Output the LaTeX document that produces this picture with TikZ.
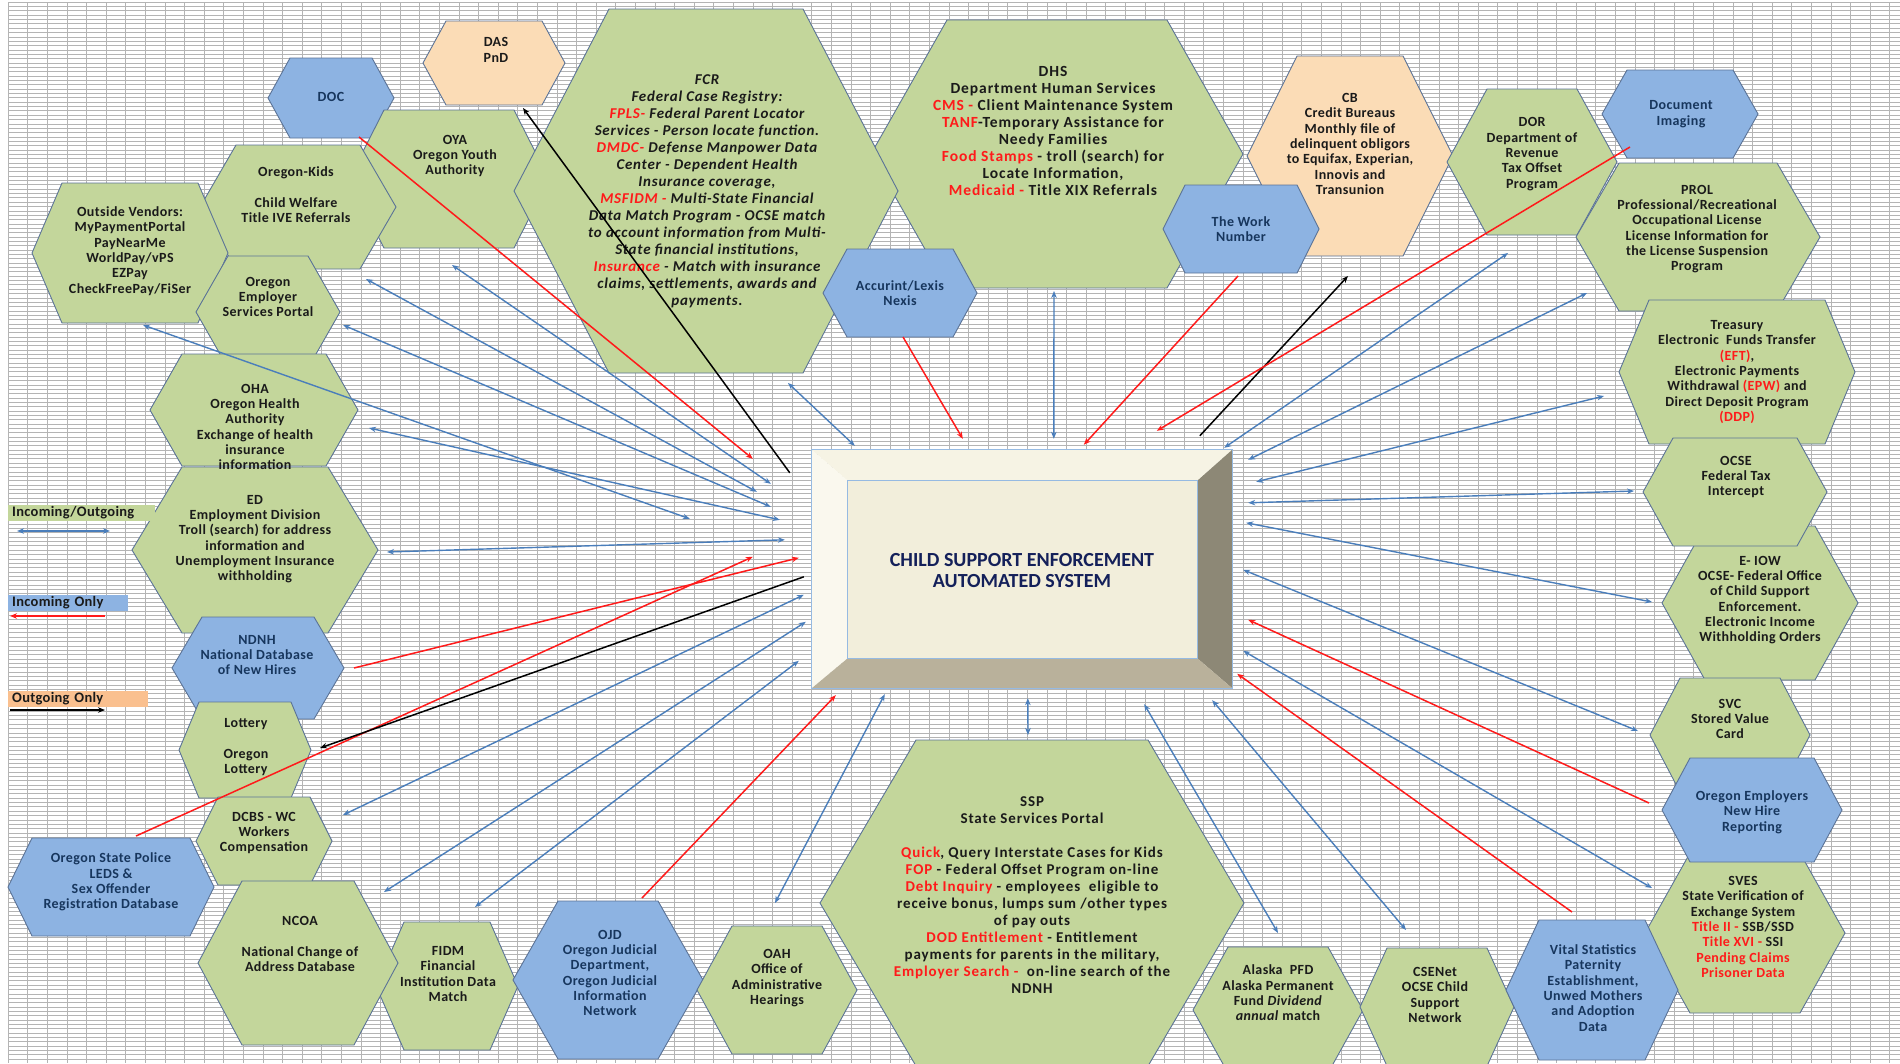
\documentclass[tikz,border=0pt]{standalone}
\usepackage{fontspec}
\setmainfont{Carlito}
\usetikzlibrary{arrows.meta}

\definecolor{hexgreen}{HTML}{C3D69B}
\definecolor{hexblue}{HTML}{8DB3E2}
\definecolor{hexpeach}{HTML}{FBDCB6}
\definecolor{legorange}{HTML}{FAC08F}
\definecolor{hexline}{HTML}{5B7397}
\definecolor{arrowblue}{HTML}{4A7EBB}
\definecolor{hred}{HTML}{FF1A1A}
\definecolor{txtdark}{HTML}{1A1A1A}
\definecolor{txtnavy}{HTML}{17365D}
\definecolor{gridgray}{HTML}{B4B4B4}
\definecolor{bevtop}{RGB}{246,243,228}
\definecolor{bevleft}{RGB}{250,248,238}
\definecolor{bevright}{RGB}{141,136,118}
\definecolor{bevbottom}{RGB}{185,177,155}
\definecolor{boxface}{RGB}{242,238,219}
\definecolor{boxedge}{RGB}{150,186,226}
\definecolor{boxtitle}{RGB}{20,32,90}

\begin{document}
\begin{tikzpicture}[x=1pt, y=-1pt, >={Stealth[length=7pt,width=5.5pt]}]
        \tikzstyle{ghex}=[fill=hexgreen, draw=hexline, line width=0.9]
        \tikzstyle{bhex}=[fill=hexblue, draw=hexline, line width=0.9]
        \tikzstyle{phex}=[fill=hexpeach, draw=hexline, line width=0.9]
        \tikzstyle{htext}=[align=center, inner sep=0pt, font=\fontsize{14}{15.3}\selectfont\bfseries\addfontfeatures{LetterSpace=3}, text=txtdark]
        \tikzstyle{hbtext}=[htext, text=txtnavy]
        \tikzstyle{bigtext}=[htext, font=\fontsize{15.5}{17}\selectfont\bfseries\addfontfeatures{LetterSpace=6}]
        \tikzstyle{io}=[<->, draw=arrowblue, line width=1.4]
        \tikzstyle{inc}=[->, draw=hred, line width=1.5]
        \tikzstyle{outg}=[->, draw=black, line width=1.5]
        \tikzstyle{legbox}=[anchor=west, minimum height=16, inner xsep=4pt, inner ysep=0pt, font=\fontsize{14.5}{15}\selectfont\bfseries\addfontfeatures{LetterSpace=2}, text=txtdark]
        \tikzset{pics/hexa/.style args={#1/#2/#3}{code={
          \path[pic actions] (-#1,0) -- (-#1+#3,-#2) -- (#1-#3,-#2) -- (#1,0) -- (#1-#3,#2) -- (-#1+#3,#2) -- cycle;}}}

        \useasboundingbox (0,0) rectangle (1900,1063);
        \fill[white] (0,0) rectangle (1900,1063);
        % sheet grid
        \foreach \gy in {2,6.35,...,1063} \draw[gridgray, line width=0.6] (8,\gy) -- (1900,\gy);
        \foreach \gx in {8,27.6,...,1900} \draw[gridgray, line width=0.6] (\gx,2) -- (\gx,1063);

        % hexagons, left side
        \pic[phex] at (494,63) {hexa=71/42/23};
        \node[htext] (das) at (496,50) {DAS\\PnD};
        \pic[bhex] at (331,98) {hexa=63/40/22};
        \node[hbtext] (doc) at (331,97) {DOC};
        \pic[ghex] at (449,179) {hexa=100/69/35};
        \node[htext] (oya) at (455,156) {OYA\\Oregon Youth\\Authority};
        \pic[ghex] at (298,207) {hexa=98/62/36};
        \node[htext] (kids) at (296,195) {Oregon-Kids\\[15.3pt]Child Welfare\\Title IVE Referrals};
        \pic[ghex] at (130,253) {hexa=98/70/30};
        \node[htext] (vend) at (130,251) {Outside Vendors:\\MyPaymentPortal\\PayNearMe\\WorldPay/vPS\\EZPay\\CheckFreePay/FiSer};
        \pic[ghex] at (268,312) {hexa=72/56/32};
        \node[htext] (oesp) at (268,297) {Oregon\\Employer\\Services Portal};
        \pic[ghex] at (255,550) {hexa=123/83/50};
        \node[htext] (ed) at (255,539) {ED\\Employment Division\\Troll (search) for address\\information and\\Unemployment Insurance\\withholding};
        \pic[ghex] at (254,410) {hexa=104/56/32};
        \node[htext] (oha) at (255,427) {OHA\\Oregon Health\\Authority\\Exchange of health\\insurance\\information};
        \pic[bhex] at (258,668) {hexa=86/51/30};
        \node[hbtext] (ndnh) at (257,655) {NDNH\\National Database\\of New Hires};
        \pic[ghex] at (245,750) {hexa=66/48/20};
        \node[htext] (lott) at (246,747) {Lottery\\[15.3pt]Oregon\\Lottery};
        \pic[bhex] at (111,887) {hexa=103/49/24};
        \node[hbtext] (osp) at (111,882) {Oregon State Police\\LEDS \&\\Sex Offender\\Registration Database};
        \pic[ghex] at (264,841) {hexa=68/44/22};
        \node[htext] (dcbs) at (264,833) {DCBS - WC\\Workers\\Compensation};
        \pic[ghex] at (447,986) {hexa=71/64/28};
        \node[htext] (fidm) at (448,974) {FIDM\\Financial\\Institution Data\\Match};
        \pic[ghex] at (298,963) {hexa=100/82/44};
        \node[htext] (ncoa) at (300,944) {NCOA\\[15.3pt]National Change of\\Address Database};
        \pic[bhex] at (608,980) {hexa=95/79/45};
        \node[hbtext] (ojd) at (610,973) {OJD\\Oregon Judicial\\Department,\\Oregon Judicial\\Information\\Network};
        \pic[ghex] at (777,990) {hexa=80/64/35};
        \node[htext] (oah) at (777,978) {OAH\\Office of\\Administrative\\Hearings};

        % hexagons, middle
        \pic[ghex] at (1032,903) {hexa=212/163/96};
        \node[htext, font=\fontsize{15}{17}\selectfont\bfseries\addfontfeatures{LetterSpace=6}] (ssp) at (1032,895) {SSP\\State Services Portal\\[17pt]{\color{hred}Quick}, Query Interstate Cases for Kids\\{\color{hred}FOP} - Federal Offset Program on-line\\{\color{hred}Debt Inquiry} - employees\ \ eligible to\\receive bonus, lumps sum /other types\\of pay outs\\{\color{hred}DOD Entitlement} - Entitlement\\payments for parents in the military,\\{\color{hred}Employer Search -}\ \ on-line search of the\\NDNH};
        \pic[ghex] at (1278,1010) {hexa=85/63/35};
        \node[htext] (alaska) at (1278,993) {Alaska\ \ PFD\\Alaska Permanent\\Fund \textit{Dividend}\\\textit{annual} match};
        \pic[ghex] at (1057,154) {hexa=186/134/76};
        \node[bigtext] (dhs) at (1053,131) {DHS\\Department Human Services\\{\color{hred}CMS -} Client Maintenance System\\{\color{hred}TANF}-Temporary Assistance for\\Needy Families\\{\color{hred}Food Stamps} - troll (search) for\\Locate Information,\\{\color{hred}Medicaid -} Title XIX Referrals};
        \pic[phex] at (1350,156) {hexa=103/100/50};
        \node[htext] (cb) at (1350,144) {CB\\Credit Bureaus\\Monthly file of\\delinquent obligors\\to Equifax, Experian,\\Innovis and\\Transunion};
        \pic[ghex] at (706,191) {hexa=192/182/95};
        \node[htext, font=\fontsize{15}{17}\selectfont\bfseries\itshape\addfontfeatures{LetterSpace=5}] (fcr) at (707,191) {FCR\\Federal Case Registry:\\{\color{hred}FPLS-} Federal Parent Locator\\Services - Person locate function.\\{\color{hred}DMDC-} Defense Manpower Data\\Center - Dependent Health\\Insurance coverage,\\{\color{hred}MSFIDM -} Multi-State Financial\\Data Match Program - OCSE match\\to account information from Multi-\\State financial institutions,\\{\color{hred}Insurance} - Match with insurance\\claims, settlements, awards and\\payments.};
        \pic[bhex] at (900,293) {hexa=77/44/24};
        \node[hbtext] (acc) at (900,293) {Accurint/Lexis\\Nexis};
        \pic[bhex] at (1241,229) {hexa=78/44/22};
        \node[hbtext] (work) at (1241,229) {The Work\\Number};

        % hexagons, right side
        \pic[ghex] at (1532,162) {hexa=85/73/40};
        \node[htext] (dor) at (1532,154) {DOR\\Department of\\Revenue\\Tax Offset\\Program};
        \pic[bhex] at (1680,114) {hexa=78/44/25};
        \node[hbtext] (docimg) at (1681,114) {Document\\Imaging};
        \pic[ghex] at (1698,237) {hexa=122/74/43};
        \node[htext] (prol) at (1697,229) {PROL\\Professional/Recreational\\Occupational License\\License Information for\\the License Suspension\\Program};
        \pic[ghex] at (1737,372) {hexa=118/72/30};
        \node[htext] (treas) at (1737,372) {Treasury\\Electronic\ \ Funds Transfer\\{\color{hred}(EFT)},\\Electronic Payments\\Withdrawal {\color{hred}(EPW)} and\\Direct Deposit Program\\{\color{hred}(DDP)}};
        \pic[ghex] at (1760,603) {hexa=98/77/43};
        \node[htext] (eiow) at (1760,600) {E- IOW\\OCSE- Federal Office\\of Child Support\\Enforcement.\\Electronic Income\\Withholding Orders};
        \pic[ghex] at (1735,492) {hexa=92/54/30};
        \node[htext] (ocse) at (1736,477) {OCSE\\Federal Tax\\Intercept};
        \pic[ghex] at (1730,735) {hexa=80/57/30};
        \node[htext] (svc) at (1730,719) {SVC\\Stored Value\\Card};
        \pic[ghex] at (1745,933) {hexa=100/80/45};
        \node[htext] (sves) at (1743,927) {SVES\\State Verification of\\Exchange System\\{\color{hred}Title II -} SSB/SSD\\{\color{hred}Title XVI -} SSI\\{\color{hred}Pending Claims}\\{\color{hred}Prisoner Data}};
        \pic[bhex] at (1752,810) {hexa=90/52/28};
        \node[hbtext] (oenh) at (1752,812) {Oregon Employers\\New Hire\\Reporting};
        \pic[ghex] at (1437,1007) {hexa=77/59/27};
        \node[htext] (csenet) at (1435,995) {CSENet\\OCSE Child\\Support\\Network};
        \pic[bhex] at (1592,990) {hexa=86/70/33};
        \node[hbtext] (vital) at (1593,988) {Vital Statistics\\Paternity\\Establishment,\\Unwed Mothers\\and Adoption\\Data};

        % central system box
        \node[minimum width=420, minimum height=238, inner sep=0pt] (cse) at (1022,569) {};
        \fill[bevtop] (cse.north west) -- (cse.north east) -- ([shift={(-35,31)}]cse.north east) -- ([shift={(36,31)}]cse.north west) -- cycle;
        \fill[bevleft] (cse.north west) -- ([shift={(36,31)}]cse.north west) -- ([shift={(36,-30)}]cse.south west) -- (cse.south west) -- cycle;
        \fill[bevright] (cse.north east) -- (cse.south east) -- ([shift={(-35,-30)}]cse.south east) -- ([shift={(-35,31)}]cse.north east) -- cycle;
        \fill[bevbottom] (cse.south west) -- (cse.south east) -- ([shift={(-35,-30)}]cse.south east) -- ([shift={(36,-30)}]cse.south west) -- cycle;
        \filldraw[fill=boxface, draw=boxedge, line width=0.8] ([shift={(36,31)}]cse.north west) rectangle ([shift={(-35,-30)}]cse.south east);
        \draw[boxedge, line width=1] (cse.north west) rectangle (cse.south east);
        \node[align=center, font=\fontsize{20}{21}\selectfont\bfseries, text=boxtitle] (csetitle) at (1022,571) {CHILD SUPPORT ENFORCEMENT\\AUTOMATED SYSTEM};

        % arrow ends at the agencies
        \coordinate (das-o) at (523,108);
        \coordinate (doc-o) at (359,137);
        \coordinate (oya-o) at (452,265);
        \coordinate (kids-o) at (366,279);
        \coordinate (oesp-o) at (343,325);
        \coordinate (vend-o) at (143,325);
        \coordinate (oha-o) at (369,428);
        \coordinate (ed-o) at (387,552);
        \coordinate (ndnh-o) at (354,668);
        \coordinate (lott-o) at (320,748);
        \coordinate (osp-o) at (136,836);
        \coordinate (dcbs-o) at (343,815);
        \coordinate (ncoa-o) at (384,892);
        \coordinate (fidm-o) at (475,907);
        \coordinate (ojd-o) at (642,898);
        \coordinate (oah-o) at (775,903);
        \coordinate (ssp-o) at (1028,735);
        \coordinate (alaska-o) at (1278,933);
        \coordinate (csenet-o) at (1406,930);
        \coordinate (vital-o) at (1572,912);
        \coordinate (sves-o) at (1652,888);
        \coordinate (oenh-o) at (1649,803);
        \coordinate (svc-o) at (1638,731);
        \coordinate (eiow-o) at (1652,602);
        \coordinate (ocse-o) at (1634,491);
        \coordinate (treas-o) at (1604,396);
        \coordinate (prol-o) at (1587,293);
        \coordinate (dor-o) at (1508,253);
        \coordinate (docimg-o) at (1630,147);
        \coordinate (cb-o) at (1348,276);
        \coordinate (work-o) at (1238,276);
        \coordinate (dhs-o) at (1054,291);
        \coordinate (acc-o) at (903,337);
        \coordinate (fcr-o) at (788,383);

        % connectors, left
        \draw[inc] (doc-o) -- ([shift={(-59,9)}]cse.north west);
        \draw[outg] ([shift={(-22,23)}]cse.north west) -- (das-o);
        \draw[io] (oya-o) -- ([shift={(-41,34)}]cse.north west);
        \draw[io] (kids-o) -- ([shift={(-55,42)}]cse.north west);
        \draw[io] (oesp-o) -- ([shift={(-41,57)}]cse.north west);
        \draw[io] (oha-o) -- ([shift={(-32,70)}]cse.north west);
        \draw[io] (vend-o) -- ([shift={(-122,69)}]cse.north west);
        \draw[io] (ed-o) -- ([shift={(-27,90)}]cse.north west);
        \draw[inc] (osp-o) -- ([shift={(-59,107)}]cse.north west);
        \draw[inc] (ndnh-o) -- ([shift={(-13,108)}]cse.north west);
        \draw[outg] ([shift={(-8,127)}]cse.north west) -- (lott-o);
        \draw[io] (dcbs-o) -- ([shift={(-8,145)}]cse.north west);
        \draw[io] (ncoa-o) -- ([shift={(-6,172)}]cse.north west);
        \draw[io] (fidm-o) -- ([shift={(-13,211)}]cse.north west);
        % connectors, top
        \draw[io] (fcr-o) -- ([shift={(43,-4)}]cse.north west);
        \draw[inc] (acc-o) -- ([shift={(151,-11)}]cse.north west);
        \draw[io] (dhs-o) -- ([shift={(242,-11)}]cse.north west);
        \draw[inc] (work-o) -- ([shift={(272,-5)}]cse.north west);
        \draw[outg] ([shift={(388,-14)}]cse.north west) -- (cb-o);
        \draw[inc] (docimg-o) -- ([shift={(345,-19)}]cse.north west);
        % connectors, right
        \draw[io] (dor-o) -- ([shift={(-8,-2)}]cse.north east);
        \draw[io] (prol-o) -- ([shift={(16,10)}]cse.north east);
        \draw[io] (treas-o) -- ([shift={(24,32)}]cse.north east);
        \draw[io] (ocse-o) -- ([shift={(16,53)}]cse.north east);
        \draw[io] (eiow-o) -- ([shift={(14,73)}]cse.north east);
        \draw[io] (svc-o) -- ([shift={(11,120)}]cse.north east);
        \draw[inc] (oenh-o) -- ([shift={(16,170)}]cse.north east);
        \draw[io] (sves-o) -- ([shift={(11,201)}]cse.north east);
        \draw[inc] (vital-o) -- ([shift={(5,224)}]cse.north east);
        % connectors, bottom
        \draw[io] (csenet-o) -- ([shift={(-20,12)}]cse.south east);
        \draw[io] (alaska-o) -- ([shift={(-88,16)}]cse.south east);
        \draw[io] (ssp-o) -- ([shift={(216,10)}]cse.south west);
        \draw[io] (oah-o) -- ([shift={(73,6)}]cse.south west);
        \draw[inc] (ojd-o) -- ([shift={(24,7)}]cse.south west);

        % legend
        \node[legbox, fill=hexgreen, text width=139] (leg-io) at (8,513) {Incoming/Outgoing};
        \coordinate (leg-io-a) at (17,531);
        \coordinate (leg-io-b) at (110,531);
        \draw[io] (leg-io-a) -- (leg-io-b);
        \node[legbox, fill=hexblue, text width=112] (leg-in) at (8,603) {Incoming Only};
        \coordinate (leg-in-a) at (105,616);
        \coordinate (leg-in-b) at (10,616);
        \draw[inc] (leg-in-a) -- (leg-in-b);
        \node[legbox, fill=legorange, text width=132] (leg-out) at (8,699) {Outgoing Only};
        \coordinate (leg-out-a) at (10,710);
        \coordinate (leg-out-b) at (105,710);
        \draw[outg] (leg-out-a) -- (leg-out-b);
    \end{tikzpicture}
\end{document}
